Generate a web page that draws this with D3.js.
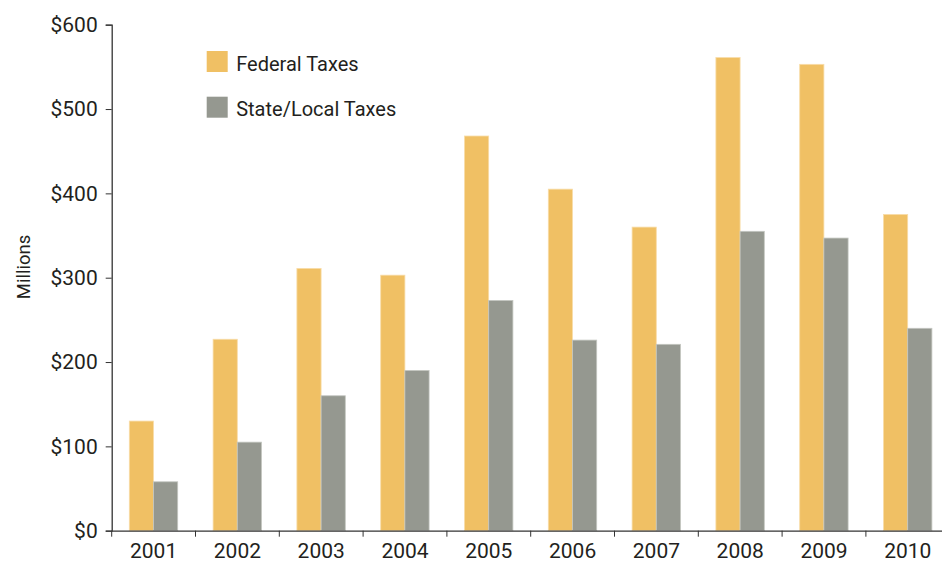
<!DOCTYPE html>
<html>
<head>
<meta charset="utf-8">
<script src="https://cdn.jsdelivr.net/npm/d3@7"></script>
<style>
  body { margin: 0; background: #fff; }
  svg text { font-family: Roboto, "Liberation Sans", sans-serif; fill: #231f20; }
</style>
</head>
<body>
<script>
var years = ["2001", "2002", "2003", "2004", "2005", "2006", "2007", "2008", "2009", "2010"];
var federal = [130, 227, 311, 303, 468, 405, 360, 561, 553, 375];
var stateLocal = [58, 105, 160, 190, 273, 226, 221, 355, 347, 240];
var seriesNames = ["Federal Taxes", "State/Local Taxes"];
var yTicks = [0, 100, 200, 300, 400, 500, 600];

var colors = ["#f0c064", "#959890"];

var width = 942, height = 562;

var svg = d3.select("body").append("svg")
    .attr("width", width)
    .attr("height", height);

var x = d3.scaleBand()
    .domain(years)
    .range([111.7, 949.7]);

var sub = d3.scaleBand()
    .domain(seriesNames)
    .range([17.6, 17.6 + 48.4]);

var y = d3.scaleLinear()
    .domain([0, 600])
    .range([530.7, 24.7]);

var rows = years.map(function(yr, i) {
  return {year: yr, values: [federal[i], stateLocal[i]]};
});

var groups = svg.selectAll(".year")
    .data(rows)
  .enter().append("g")
    .attr("class", "year")
    .attr("transform", function(d) { return "translate(" + x(d.year) + ",0)"; });

groups.selectAll("rect")
    .data(function(d) { return d.values.map(function(v, i) { return {name: seriesNames[i], value: v, i: i}; }); })
  .enter().append("rect")
    .attr("x", function(d) { return sub(d.name); })
    .attr("width", sub.bandwidth())
    .attr("y", function(d) { return y(d.value); })
    .attr("height", function(d) { return y(0) - y(d.value); })
    .attr("fill", function(d) { return colors[d.i]; })
    .attr("stroke", function(d) { return d.i == 0 ? "#f8dca8" : "#c4c6c0"; })
    .attr("stroke-width", 0.8);

var yAxis = d3.axisLeft(y)
    .tickValues(yTicks)
    .tickSize(6)
    .tickPadding(8)
    .tickFormat(function(d) { return "$" + d; });

var xAxis = d3.axisBottom(x)
    .tickSize(0)
    .tickPadding(12);

svg.append("g")
    .attr("class", "y-axis")
    .attr("transform", "translate(111.7,0)")
    .call(yAxis);

var xg = svg.append("g")
    .attr("class", "x-axis")
    .attr("transform", "translate(0,530.7)")
    .call(xAxis);

// boundary ticks between years
xg.selectAll(".sep")
    .data(years)
  .enter().append("line")
    .attr("class", "sep")
    .attr("x1", function(d) { return x(d); })
    .attr("x2", function(d) { return x(d); })
    .attr("y1", 0)
    .attr("y2", 6)
    .attr("stroke", "#333");

svg.selectAll(".domain").attr("stroke", "#333").attr("stroke-width", 1.3);
svg.selectAll(".tick line").attr("stroke", "#333");
svg.selectAll(".tick text")
    .style("font-size", "21px")
    .attr("fill", "#231f20");
xg.selectAll(".tick text").attr("dy", "0.71em");

svg.append("text")
    .attr("transform", "translate(30,267) rotate(-90)")
    .attr("text-anchor", "middle")
    .style("font-size", "18.5px")
    .text("Millions");

var legend = svg.selectAll(".legend")
    .data(seriesNames)
  .enter().append("g")
    .attr("class", "legend")
    .attr("transform", function(d, i) { return "translate(206.7," + (51 + i * 45.7) + ")"; });

legend.append("rect")
    .attr("width", 21)
    .attr("height", 21)
    .attr("fill", function(d, i) { return colors[i]; });

legend.append("text")
    .attr("x", 29.5)
    .attr("y", 19.7)
    .style("font-size", "20px")
    .text(function(d) { return d; });
</script>
</body>
</html>
